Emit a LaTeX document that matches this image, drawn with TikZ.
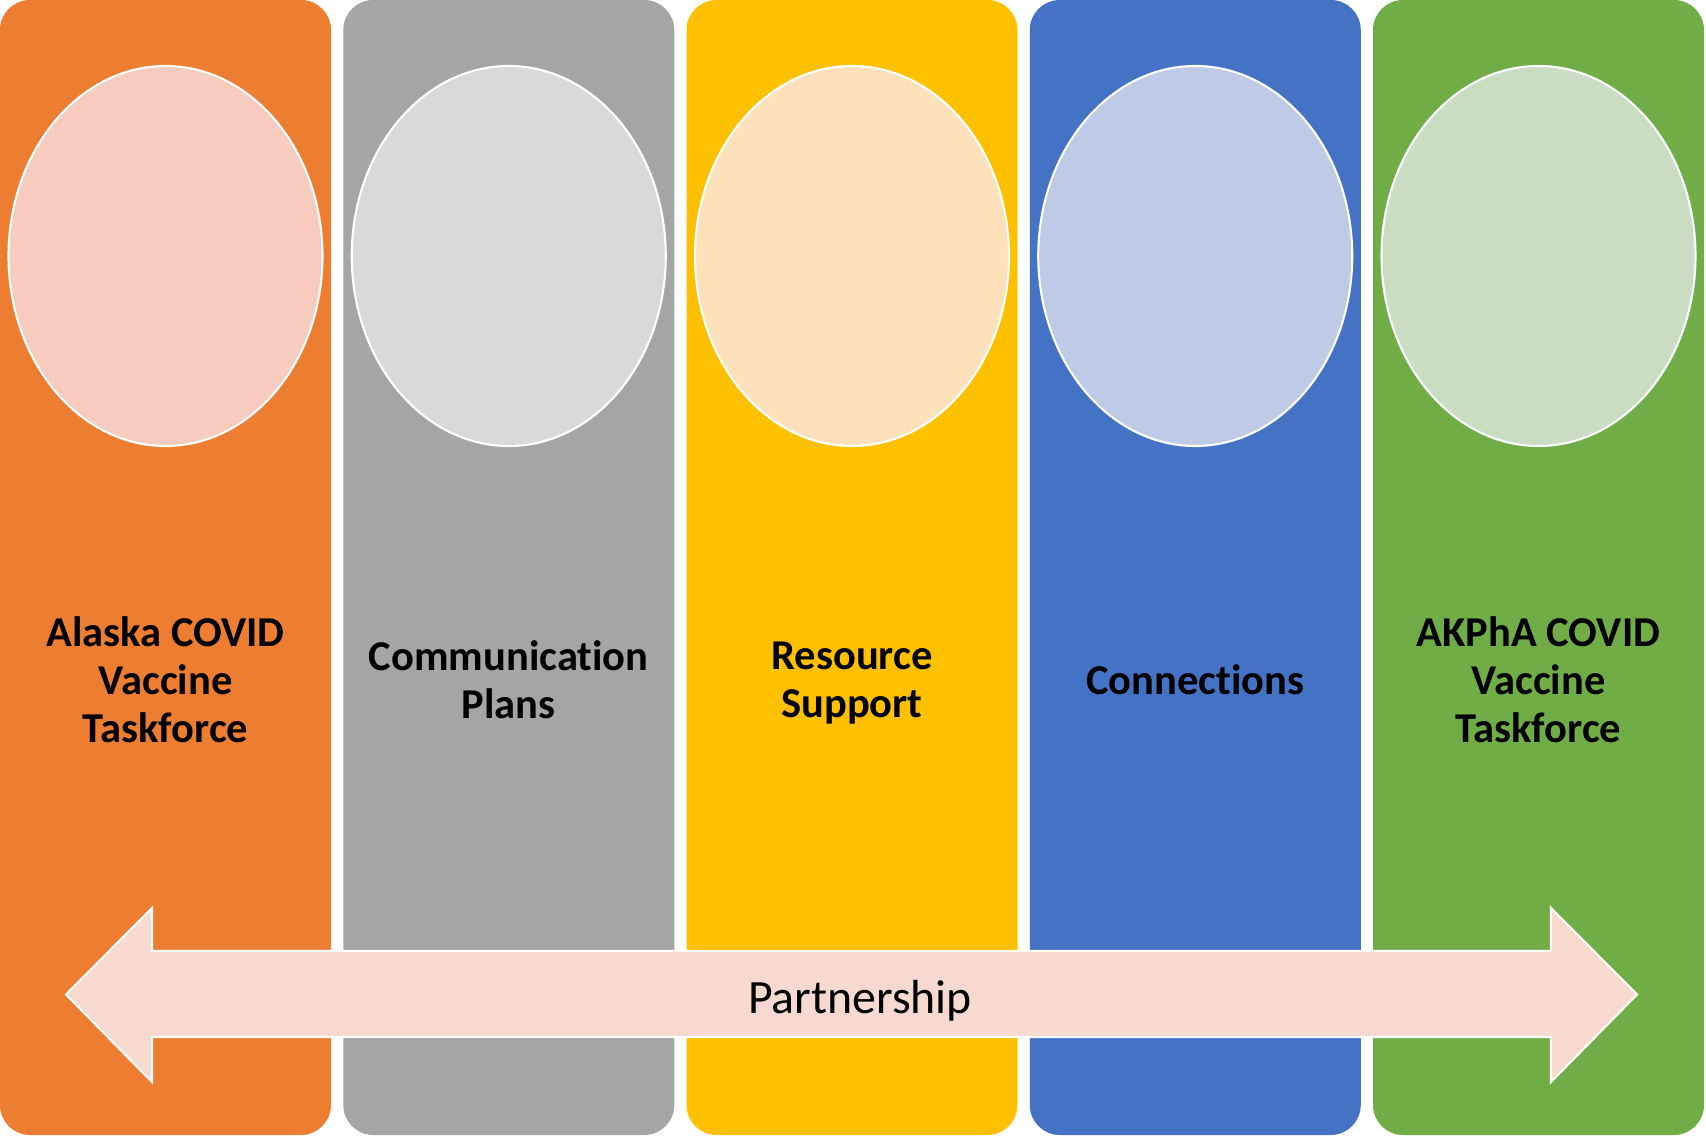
\documentclass[tikz,border=0pt]{standalone}
\usepackage{fontspec}
\setmainfont[Ligatures=NoCommon]{Carlito}
\usetikzlibrary{shapes.geometric,positioning}
\definecolor{corange}{HTML}{ED7D31}
\definecolor{cgray}{HTML}{A5A5A5}
\definecolor{cyellow}{HTML}{FFC000}
\definecolor{cblue}{HTML}{4472C4}
\definecolor{cgreen}{HTML}{70AD47}
\definecolor{lorange}{HTML}{F7CBBE}
\definecolor{lgray}{HTML}{D9D9D9}
\definecolor{lyellow}{HTML}{FEE0BB}
\definecolor{lblue}{HTML}{BFCAE6}
\definecolor{lgreen}{HTML}{CADDC3}
\definecolor{arrowfill}{HTML}{F7D9CF}

\begin{document}
\begin{tikzpicture}
\tikzstyle{col}=[rectangle,rounded corners=0.3cm,draw=none,
minimum width=3.31cm,minimum height=11.35cm,inner sep=0pt,outer sep=0pt]
\tikzstyle{disc}=[ellipse,draw=white,line width=0.6pt,
minimum width=3.14cm,minimum height=3.80cm,inner sep=0pt]
\tikzstyle{lbl}=[align=center,font=\fontsize{12.1}{13.7}\selectfont\bfseries]
\useasboundingbox (0,0) rectangle (17.06,-11.38);

% columns
\node[col,fill=corange] at (1.655,-5.675) (c1) {};
\node[col,fill=cgray,right=0.1225cm of c1] (c2) {};
\node[col,fill=cyellow,right=0.1225cm of c2] (c3) {};
\node[col,fill=cblue,right=0.1225cm of c3] (c4) {};
\node[col,fill=cgreen,right=0.1225cm of c4] (c5) {};

% circles on top
\node[disc,fill=lorange] at ([yshift=-2.56cm]c1.north) (e1) {};
\node[disc,fill=lgray] at ([yshift=-2.56cm]c2.north) (e2) {};
\node[disc,fill=lyellow] at ([yshift=-2.56cm]c3.north) (e3) {};
\node[disc,fill=lblue] at ([yshift=-2.56cm]c4.north) (e4) {};
\node[disc,fill=lgreen] at ([yshift=-2.56cm]c5.north) (e5) {};

% labels
\node[lbl] at ([yshift=-6.80cm]c1.north) (t1) {Alaska COVID\\Vaccine\\Taskforce};
\node[lbl] at ([yshift=-6.80cm]c2.north) (t2) {Communication\\Plans};
\node[lbl] at ([yshift=-6.83cm]c3.north) (t3) {Resource\\Support};
\node[lbl] at ([yshift=-6.80cm]c4.north) (t4) {Connections};
\node[lbl] at ([yshift=-6.80cm]c5.north) (t5) {AKPhA COVID\\Vaccine\\Taskforce};

% partnership arrow
\draw[fill=arrowfill,draw=white,line width=0.6pt,line join=miter]
 (0.66,-9.945) -- (1.52,-9.08) -- (1.52,-9.51) -- (15.51,-9.51)
 -- (15.51,-9.08) -- (16.37,-9.945) -- (15.51,-10.82) -- (15.51,-10.37)
 -- (1.52,-10.37) -- (1.52,-10.82) -- cycle;
\node[font=\fontsize{13.6}{16}\selectfont] at (8.60,-10.01) (p) {Partnership};

\end{tikzpicture}
\end{document}
